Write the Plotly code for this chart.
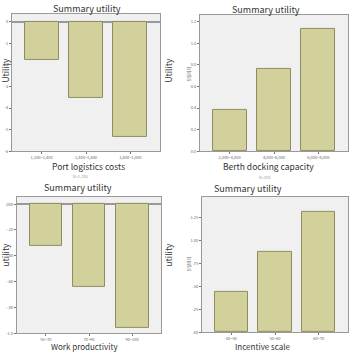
import plotly.graph_objects as go

# ---- data ----
cost_cats = ["1,200~1,400", "1,400~1,600", "1,600~1,800"]
cost_vals = [-1.78, -3.55, -5.32]

berth_cats = ["2,000~4,000", "4,000~6,000", "6,000~8,000"]
berth_vals = [0.387, 0.762, 1.137]

work_cats = ["50~70", "70~90", "90~100"]
work_vals = [-0.32, -0.64, -0.96]

incent_cats = ["40~50", "50~60", "60~70"]
incent_vals = [0.435, 0.87, 1.31]

cost_ticks = [0, -1, -2, -3, -4, -5, -6]
berth_ticks = [0.0, 0.2, 0.4, 0.6, 0.8, 1.0, 1.2]
work_ticks = [0.0, -0.2, -0.4, -0.6, -0.8, -1.0]
work_ticktext = [".000", "-.20", "-.40", "-.60", "-.80", "-1.0"]
incent_ticks = [0.0, 0.25, 0.5, 0.75, 1.0, 1.25]
incent_ticktext = [".00", ".25", ".50", ".75", "1.00", "1.25"]

BAR_FILL = "#d3d19b"
BAR_LINE = "#8e8c62"
BG = "#f0f0f0"
FONT = "Noto Sans CJK KR"

fig = go.Figure()
panels = [
    (cost_cats, cost_vals, "x", "y"),
    (berth_cats, berth_vals, "x2", "y2"),
    (work_cats, work_vals, "x3", "y3"),
    (incent_cats, incent_vals, "x4", "y4"),
]
for cats, vals, xa, ya in panels:
    fig.add_trace(go.Bar(
        x=list(range(len(cats))), y=vals, width=0.76,
        marker=dict(color=BAR_FILL, line=dict(color=BAR_LINE, width=1)),
        xaxis=xa, yaxis=ya, showlegend=False, hoverinfo="skip",
    ))

def xax(domain, cats, anchor):
    return dict(domain=domain, anchor=anchor, range=[-0.67, 2.67],
                tickmode="array", tickvals=list(range(len(cats))), ticktext=cats,
                tickfont=dict(size=4, color="#666", family=FONT),
                ticks="outside", ticklen=2, tickcolor="#777",
                showline=True, linecolor="#999", linewidth=1, mirror=True,
                showgrid=False, zeroline=False, fixedrange=True)

def yax(domain, rng, tv, tt, anchor, zl):
    return dict(domain=domain, anchor=anchor, range=rng,
                tickmode="array", tickvals=tv, ticktext=tt,
                tickfont=dict(size=4, color="#666", family=FONT),
                ticks="outside", ticklen=2, tickcolor="#777",
                showline=True, linecolor="#999", linewidth=1, mirror=True,
                showgrid=False, zeroline=zl, zerolinecolor="#999", zerolinewidth=1.5,
                fixedrange=True)

W = 353.0
fig.update_layout(
    width=353, height=353, margin=dict(l=0, r=0, t=0, b=0),
    paper_bgcolor="white", plot_bgcolor=BG,
    font=dict(family=FONT, color="#333"),
    bargap=0,
    xaxis=xax([12/W, 160/W], cost_cats, "y"),
    yaxis=yax([1-152/W, 1-14/W], [-6, 0.37], cost_ticks, [str(t) for t in cost_ticks], "x", True),
    xaxis2=xax([200/W, 348/W], berth_cats, "y2"),
    yaxis2=yax([1-152/W, 1-15/W], [0, 1.265], berth_ticks, [f"{t:.1f}" for t in berth_ticks], "x2", False),
    xaxis3=xax([17/W, 161/W], work_cats, "y3"),
    yaxis3=yax([1-335/W, 1-198/W], [-1.0, 0.056], work_ticks, work_ticktext, "x3", True),
    xaxis4=xax([202/W, 348/W], incent_cats, "y4"),
    yaxis4=yax([1-334/W, 1-198/W], [0, 1.475], incent_ticks, incent_ticktext, "x4", False),
)

def txt(x, y, s, size, angle=0, color="#333"):
    fig.add_annotation(x=x/W, y=1-y/W, xref="paper", yref="paper", text=s,
                       showarrow=False, textangle=angle,
                       font=dict(size=size, family=FONT, color=color),
                       xanchor="center", yanchor="middle")

# titles
txt(87, 9, "Summary utility", 9)
txt(266, 10, "Summary utility", 9)
txt(78, 189, "Summary utility", 9)
txt(248, 190, "Summary utility", 9)
# x axis titles
txt(88, 167, "Port logistics costs", 8.5)
txt(268, 167, "Berth docking capacity", 8.5)
txt(84, 348, "Work productivity", 8)
txt(263, 348, "Incentive scale", 8)
# y axis titles
txt(5, 71, "Utility", 8.5, -90)
txt(168, 71, "Utility", 8.5, -90)
txt(189, 75, "유틸리티", 4, -90, "#666")
txt(5, 256, "utility", 8.5, -90)
txt(168, 256, "utility", 8.5, -90)
txt(189, 266, "유틸리티", 4, -90, "#666")
# small notes
txt(80, 177, "B=1,783", 4, 0, "#999")
txt(265, 178, "B=358", 4, 0, "#999")

fig.write_html("out.html")
